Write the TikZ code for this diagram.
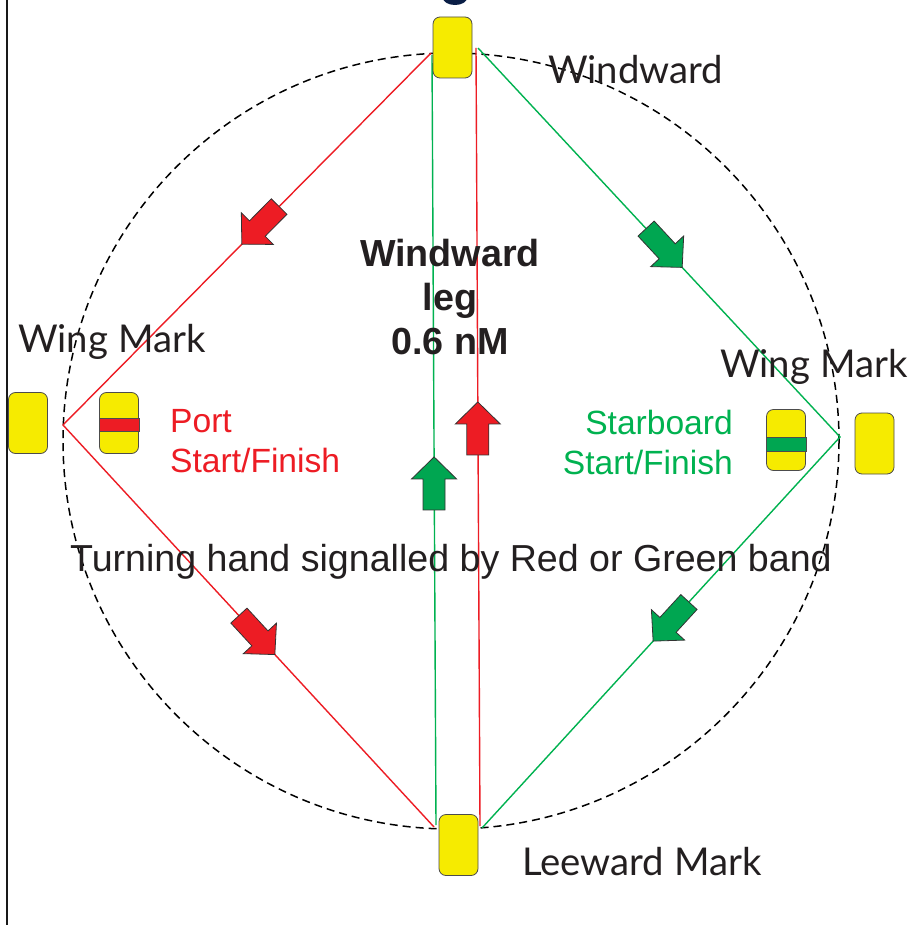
\documentclass[tikz,border=0pt]{standalone}
\usepackage{fontspec}
\setmainfont{Liberation Sans}
\newfontfamily\labelfont{Lato}
\usetikzlibrary{calc}
\definecolor{cred}{RGB}{237,28,36}
\definecolor{cgreen}{RGB}{0,166,81}
\definecolor{lgreen}{RGB}{0,178,80}
\definecolor{myyellow}{RGB}{246,235,0}
\definecolor{txt}{RGB}{35,31,32}
\definecolor{navy}{RGB}{10,30,70}
\tikzset{
  buoy/.style={draw=black!70, line width=0.8pt, fill=myyellow, rounded corners=7pt,
    minimum width=39pt, minimum height=61pt, inner sep=0pt},
  band/.style={draw=black!70, line width=0.8pt},
  course/.style={line width=1.4pt},
  pics/barrow/.style={code={
    \draw[pic actions] (0,0) -- (-22,22.5) -- (-22,11) -- (-53,11) -- (-53,-11)
      -- (-22,-11) -- (-22,-22.5) -- cycle;}},
  arrowlook/.style={draw=black!80, line width=0.8pt, line join=miter},
  lbl/.style={text=txt, font=\labelfont\fontsize{38.3}{44}\selectfont, inner sep=0pt},
  arl/.style={font=\fontsize{33.6}{40}\selectfont, inner sep=0pt}
}
\begin{document}
\begin{tikzpicture}[x=1pt,y=-1pt]
\useasboundingbox (0,0) rectangle (909,925);
\fill[white] (0,0) rectangle (909,925);
% frame line at left
\draw[line width=2pt, black!90] (7,0) -- (7,925);
% cut-off title glyph
\fill[navy] (455,-2) ellipse [x radius=12, y radius=7];
% course circle
\coordinate (c) at (451,441);
\draw[dash pattern=on 8pt off 5pt, line width=1.5pt] (c) circle[radius=388];
% course vertices
\coordinate (rdt) at (431,53);
\coordinate (gvt) at (432,55);
\coordinate (rvt) at (476,48);
\coordinate (gdt) at (478,48);
\coordinate (rdb) at (434,827);
\coordinate (gvb) at (436,825);
\coordinate (rvb) at (480,826);
\coordinate (gdb) at (482,828);
\coordinate (lv) at (63,425);
\coordinate (rv) at (840,437);
% course legs
\draw[course, cred] (rdt) -- (lv) -- (rdb);
\draw[course, cred] (rvb) -- (rvt);
\draw[course, lgreen] (gdt) -- (rv) -- (gdb);
\draw[course, lgreen] (gvb) -- (gvt);
% marks
\node[buoy] (top) at (452.5,47.5) {};
\node[buoy] (bot) at (458.5,845) {};
\node[buoy] (lout) at (28,423) {};
\node[buoy] (lin) at (119,423) {};
\node[buoy] (rin) at (786,440) {};
\node[buoy] (rout) at (874.5,443.5) {};
\draw[band, fill=cred] ($(lin.west)+(0,-5)$) rectangle ($(lin.east)+(0,8)$);
\draw[band, fill=cgreen] ($(rin.west)+(0,-3)$) rectangle ($(rin.east)+(0,11)$);
% direction arrows
\pic[arrowlook, fill=cred, rotate=225.3] at ($(rdt)!0.514!(lv)$) {barrow};
\pic[arrowlook, fill=cred, rotate=-47.3] at ($(lv)!0.571!(rdb)$) {barrow};
\pic[arrowlook, fill=cgreen, rotate=-47.1] at ($(gdt)!0.564!(rv)$) {barrow};
\pic[arrowlook, fill=cgreen, rotate=227.5] at ($(rv)!0.522!(gdb)$) {barrow};
\pic[arrowlook, fill=cgreen, rotate=90] at ($(gvb)!0.478!(gvt)$) {barrow};
\pic[arrowlook, fill=cred, rotate=90] at ($(rvb)!0.545!(rvt)$) {barrow};
% labels
\node[lbl, anchor=west] (tw) at (548,70) {Windward};
\node[lbl, anchor=west] (lw) at (18,342) {Wing Mark};
\node[lbl, anchor=west] (rw) at (720,367) {Wing Mark};
\node[lbl, anchor=west] (lm) at (522,862) {Leeward Mark};
\node[font=\fontsize{37.7}{44}\selectfont\bfseries, text=txt, align=center, inner sep=0pt] (leg) at (450,297) {Windward\\leg\\0.6 nM};
\node[arl, text=cred, align=left, anchor=west] (port) at (170,441) {Port\\Start/Finish};
\node[arl, text=lgreen, align=right, anchor=east] (stb) at (733,442) {Starboard\\Start/Finish};
\node[font=\fontsize{37.6}{44}\selectfont, text=txt, inner sep=0pt] (turn) at (451,562) {Turning hand signalled by Red or Green band};
\end{tikzpicture}
\end{document}
